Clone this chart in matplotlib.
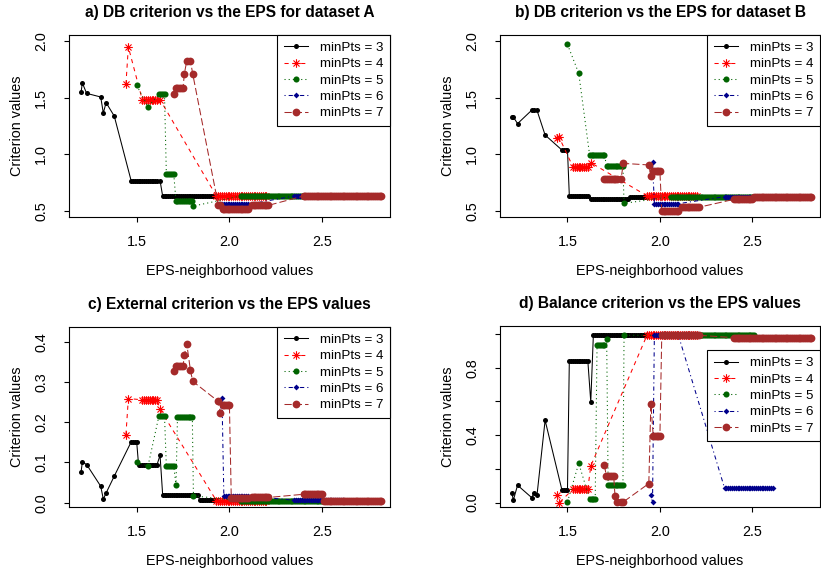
import numpy as np
import matplotlib
matplotlib.use("Agg")
import matplotlib.pyplot as plt
from matplotlib.path import Path
from matplotlib.lines import Line2D

plt.rcParams["font.family"] = ["Liberation Sans", "DejaVu Sans"]
plt.rcParams["lines.scale_dashes"] = False

# ---------------------------------------------------------------------------
# Data: every series is a list of EPS runs (start, end).  Inside a run the
# criterion value stays constant; a single evaluation has start == end.
# ---------------------------------------------------------------------------
EPS_STEP = 0.01

# minPts = 3
eps3_start = [1.200, 1.207, 1.230, 1.306, 1.320, 1.335, 1.379, 1.47, 1.51, 1.626, 1.64, 1.84]
eps3_end   = [1.200, 1.207, 1.230, 1.306, 1.320, 1.335, 1.379, 1.50, 1.61, 1.626, 1.83, 1.93]
db_a3  = [1.548, 1.631, 1.539, 1.507, 1.365, 1.457, 1.338, 0.766, 0.766, 0.766, 0.630, 0.630]
db_b3  = [1.327, 1.330, 1.271, 1.389, 1.389, 1.389, 1.170, 1.037, 0.632, 0.604, 0.604, 0.624]
ext3   = [0.076, 0.101, 0.095, 0.041, 0.009, 0.024, 0.066, 0.151, 0.095, 0.118, 0.020, 0.006]
bal3   = [0.055, 0.014, 0.103, 0.030, 0.057, 0.043, 0.488, 0.075, 0.842, 0.597, 0.992, 0.992]

# minPts = 4
eps4_start = [1.442, 1.455, 1.53, 1.626, 1.93]
eps4_end   = [1.442, 1.455, 1.61, 1.626, 2.20]
db_a4  = [1.619, 1.950, 1.483, 1.483, 0.630]
db_b4  = [1.140, 1.150, 0.887, 0.925, 0.632]
ext4   = [0.169, 0.259, 0.256, 0.232, 0.005]
bal4   = [0.043, 0.000, 0.079, 0.217, 0.992]

# minPts = 5
eps5_start = [1.500, 1.561, 1.62, 1.66, 1.712, 1.72, 1.806, 2.06]
eps5_end   = [1.500, 1.561, 1.65, 1.70, 1.712, 1.80, 1.806, 2.51]
db_a5  = [1.610, 1.421, 1.530, 0.822, 0.583, 0.583, 0.541, 0.630]
db_b5  = [1.973, 1.716, 0.990, 0.990, 0.896, 0.896, 0.565, 0.624]
ext5   = [0.101, 0.091, 0.216, 0.091, 0.043, 0.213, 0.017, 0.005]
bal5   = [0.004, 0.233, 0.020, 0.933, 0.968, 0.103, 0.992, 0.992]

# minPts = 6
eps6_start = [1.951, 1.960, 1.97, 2.35]
eps6_end   = [1.951, 1.960, 2.10, 2.61]
db_a6  = [0.556, 0.556, 0.556, 0.630]
db_b6  = [0.810, 0.931, 0.562, 0.624]
ext6   = [0.224, 0.261, 0.017, 0.006]
bal6   = [0.043, 0.004, 0.992, 0.085]

# minPts = 7
eps7_start = [1.700, 1.71, 1.757, 1.770, 1.790, 1.802, 1.940, 1.951, 1.964, 2.01, 2.12, 2.40, 2.51]
eps7_end   = [1.700, 1.75, 1.757, 1.770, 1.790, 1.802, 1.940, 1.951, 2.00, 2.10, 2.21, 2.50, 2.82]
db_a7  = [1.536, 1.586, 1.713, 1.826, 1.826, 1.713, 0.550, 0.550, 0.512, 0.512, 0.547, 0.630, 0.630]
db_b7  = [0.783, 0.783, 0.783, 0.783, 0.783, 0.919, 0.905, 0.810, 0.848, 0.497, 0.530, 0.600, 0.620]
ext7   = [0.328, 0.339, 0.367, 0.395, 0.329, 0.302, 0.252, 0.224, 0.244, 0.012, 0.013, 0.021, 0.005]
bal7   = [0.221, 0.158, 0.040, 0.004, 0.004, 0.004, 0.113, 0.585, 0.395, 0.992, 0.992, 0.978, 0.978]

min_pts = [3, 4, 5, 6, 7]
eps_runs = {
    3: (eps3_start, eps3_end),
    4: (eps4_start, eps4_end),
    5: (eps5_start, eps5_end),
    6: (eps6_start, eps6_end),
    7: (eps7_start, eps7_end),
}
panels = [
    ("a) DB criterion vs the EPS for dataset A",
     {3: db_a3, 4: db_a4, 5: db_a5, 6: db_a6, 7: db_a7}),
    ("b) DB criterion vs the EPS for dataset B",
     {3: db_b3, 4: db_b4, 5: db_b5, 6: db_b6, 7: db_b7}),
    ("c) External criterion vs the EPS values",
     {3: ext3, 4: ext4, 5: ext5, 6: ext6, 7: ext7}),
    ("d) Balance criterion vs the EPS values",
     {3: bal3, 4: bal4, 5: bal5, 6: bal6, 7: bal7}),
]
x_ticks = [1.5, 2.0, 2.5]
y_ticks = [[0.5, 1.0, 1.5, 2.0], [0.5, 1.0, 1.5, 2.0],
           [0.0, 0.1, 0.2, 0.3, 0.4], [0.0, 0.2, 0.4, 0.6, 0.8, 1.0]]
y_tick_labels = [["0.5", "1.0", "1.5", "2.0"], ["0.5", "1.0", "1.5", "2.0"],
                 ["0.0", "0.1", "0.2", "0.3", "0.4"],
                 ["0.0", "", "0.4", "", "0.8", ""]]
x_label = "EPS-neighborhood values"
y_label = "Criterion values"


def expand(starts, ends, values):
    xs, ys = [], []
    for s, e, v in zip(starts, ends, values):
        n = int(round((e - s) / EPS_STEP)) + 1
        xs.extend(np.linspace(s, e, n))
        ys.extend([v] * n)
    return np.array(xs), np.array(ys)


# asterisk marker (plus overlaid with a cross)
c = np.sqrt(0.5)
asterisk = Path([(-1, 0), (1, 0), (0, -1), (0, 1), (-c, -c), (c, c), (-c, c), (c, -c)],
                [Path.MOVETO, Path.LINETO] * 4)

styles = {
    3: dict(color="black", ls="-", marker="o", ms=3.6, mew=0),
    4: dict(color="#FF0000", ls=(0, (3.0, 3.0)), marker=asterisk, ms=6.2, mew=0.8),
    5: dict(color="#006400", ls=(0, (0.8, 2.2)), marker="o", ms=4.4, mew=0),
    6: dict(color="#00008B", ls=(0, (0.8, 2.2, 3.0, 2.2)), marker="D", ms=3.0, mew=0),
    7: dict(color="#A52A2A", ls=(0, (5.2, 2.2)), marker="o", ms=5.6, mew=0),
}

fig = plt.figure(figsize=(8.21, 5.78), dpi=100)
W, H = 821.0, 578.0
boxes = [(69, 35, 390, 217), (500, 35, 820, 217), (69, 327, 390, 507), (500, 326, 820, 507)]
ylims = [(0.444, 2.056), (0.444, 2.056), (-0.0107, 0.437), (-0.026, 1.047)]
legend_top = [1.0, 1.0, 1.0, 0.866]

FS = 10.4
for i, (title, vals) in enumerate(panels):
    x0, y0, x1, y1 = boxes[i]
    ax = fig.add_axes([x0 / W, 1 - y1 / H, (x1 - x0) / W, (y1 - y0) / H])
    handles = []
    for z, k in enumerate(min_pts):
        st = styles[k]
        xs, ys = expand(eps_runs[k][0], eps_runs[k][1], vals[k])
        ax.plot(xs, ys, color=st["color"], ls=st["ls"], lw=0.75, zorder=2 + 2 * z)
        ax.plot(xs, ys, ls="none", marker=st["marker"], ms=st["ms"],
                mfc=st["color"], mec=st["color"], mew=st["mew"], zorder=3 + 2 * z)
        handles.append(Line2D([], [], color=st["color"], ls=st["ls"], lw=0.75,
                              marker=st["marker"], ms=st["ms"], mfc=st["color"],
                              mec=st["color"], mew=st["mew"], label=f"minPts = {k}"))
    ax.set_xlim(1.135, 2.866)
    ax.set_ylim(*ylims[i])
    ax.set_xticks(x_ticks)
    ax.set_xticklabels(["1.5", "2.0", "2.5"])
    ax.set_yticks(y_ticks[i])
    ax.set_yticklabels(y_tick_labels[i])
    ax.tick_params(direction="out", length=3.6, width=0.8, labelsize=FS)
    ax.tick_params(axis="x", pad=9)
    ax.tick_params(axis="y", pad=11.5)
    for lab in ax.get_yticklabels():
        lab.set_rotation(90)
        lab.set_va("center")
    for sp in ax.spines.values():
        sp.set_linewidth(0.8)
    ax.set_xlabel(x_label, fontsize=FS, labelpad=11)
    ax.set_ylabel(y_label, fontsize=FS, labelpad=7)
    ax.set_title(title, fontsize=11.2, fontweight="bold", pad=13)
    leg = ax.legend(handles=handles, loc="upper right",
                    bbox_to_anchor=(1.0, legend_top[i]), borderaxespad=0,
                    fontsize=9.6, frameon=True, fancybox=False, framealpha=1,
                    edgecolor="black", handlelength=1.8, handletextpad=0.9,
                    labelspacing=0.3, borderpad=0.5)
    leg.get_frame().set_linewidth(0.8)
    leg.set_zorder(20)

fig.savefig("out.png", dpi=100)
